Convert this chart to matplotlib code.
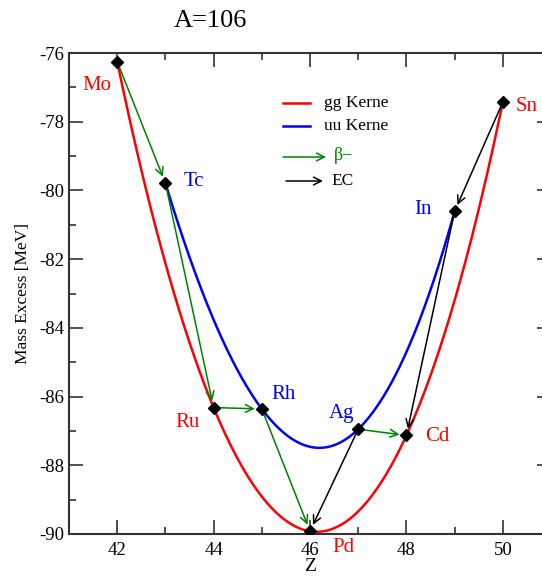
import numpy as np
import matplotlib
matplotlib.use("Agg")
import matplotlib.pyplot as plt
from matplotlib.ticker import MultipleLocator

plt.rcParams['font.family'] = ['Liberation Serif', 'DejaVu Serif']
plt.rcParams['axes.unicode_minus'] = False

# Data (A=106 isobars)
gg_names = ["Mo", "Ru", "Pd", "Cd", "Sn"]
gg_Z = [42, 44, 46, 48, 50]
gg_M = [-76.25, -86.32, -89.92, -87.13, -77.43]

uu_names = ["Tc", "Rh", "Ag", "In"]
uu_Z = [43, 45, 47, 49]
uu_M = [-79.79, -86.36, -86.95, -80.61]

# decays: (from name, to name)
beta_minus = [("Mo", "Tc"), ("Tc", "Ru"), ("Ru", "Rh"), ("Rh", "Pd"), ("Ag", "Cd")]
ec = [("Sn", "In"), ("In", "Cd"), ("Ag", "Pd")]

# label positions (in Z, MeV) for element names
label_pos = {
    "Mo": (41.58, -76.95), "Tc": (43.6, -79.75), "Ru": (43.45, -86.75),
    "Rh": (45.45, -85.95), "Pd": (46.7, -90.4), "Ag": (46.65, -86.5),
    "Cd": (48.65, -87.15), "In": (48.35, -80.55), "Sn": (50.5, -77.55),
}

pts = {n: (z, m) for n, z, m in zip(gg_names, gg_Z, gg_M)}
pts.update({n: (z, m) for n, z, m in zip(uu_names, uu_Z, uu_M)})
color_of = {n: "red" for n in gg_names}
color_of.update({n: "blue" for n in uu_names})

fig = plt.figure(figsize=(5.42, 5.77), dpi=100)
ax = fig.add_axes([69 / 542, 43 / 577, 482 / 542, 481 / 577])

# fitted curves through the points
cg = np.polyfit(gg_Z, gg_M, len(gg_Z) - 1)
zg = np.linspace(min(gg_Z), max(gg_Z), 300)
ax.plot(zg, np.polyval(cg, zg), color="red", lw=1.8, zorder=2)
cu = np.polyfit(uu_Z, uu_M, len(uu_Z) - 1)
zu = np.linspace(min(uu_Z), max(uu_Z), 300)
ax.plot(zu, np.polyval(cu, zu), color="blue", lw=1.8, zorder=2)

def arrow(a, b, col):
    ax.annotate("", xy=pts[b], xytext=pts[a],
                arrowprops=dict(arrowstyle="->", color=col, lw=1.1,
                                shrinkA=0, shrinkB=5, mutation_scale=14),
                zorder=3)

for a, b in beta_minus:
    arrow(a, b, "green")
for a, b in ec:
    arrow(a, b, "black")

allZ = gg_Z + uu_Z
allM = gg_M + uu_M
ax.plot(allZ, allM, linestyle="none", marker="D", color="black", ms=6.5, zorder=4)

for n, (x, y) in label_pos.items():
    ax.text(x, y, n, color=color_of[n], fontsize=15, ha="center", va="center",
            clip_on=False)

ax.set_xlim(41, 51)
ax.set_ylim(-90, -76)
ax.xaxis.set_major_locator(MultipleLocator(2))
ax.xaxis.set_minor_locator(MultipleLocator(1))
ax.yaxis.set_major_locator(MultipleLocator(2))
ax.yaxis.set_minor_locator(MultipleLocator(1))
ax.tick_params(which="both", direction="in", top=True, right=True,
               labelsize=13.5, width=1.2, color="#333333")
ax.tick_params(which="major", length=10)
ax.tick_params(axis="x", which="major", pad=6)
ax.tick_params(which="minor", length=5)
for s in ax.spines.values():
    s.set_linewidth(1.5)
    s.set_color("#333333")

ax.set_xlabel("Z", fontsize=14, labelpad=-1)
ax.set_ylabel("Mass Excess [MeV]", fontsize=12.5, labelpad=6)
fig.text(210 / 542, 1 - 21 / 577, "A=106", fontsize=19, ha="center", va="center")

# manual legend (axes fraction coordinates)
def fx(px):
    return (px - 69) / 482
def fy(py):
    return (534 - py) / 481

ax.plot([fx(283), fx(310)], [fy(103), fy(103)], color="red", lw=1.8, transform=ax.transAxes)
ax.text(fx(324), fy(103), "gg Kerne", fontsize=12.5, va="center", transform=ax.transAxes)
ax.plot([fx(283), fx(310)], [fy(126), fy(126)], color="blue", lw=1.8, transform=ax.transAxes)
ax.text(fx(324), fy(126), "uu Kerne", fontsize=12.5, va="center", transform=ax.transAxes)
ax.annotate("", xy=(fx(326), fy(157)), xytext=(fx(283), fy(157)), xycoords=ax.transAxes,
            arrowprops=dict(arrowstyle="->", color="green", lw=1.1, shrinkA=0, shrinkB=0,
                            mutation_scale=14))
ax.text(fx(334), fy(155), "β−", fontsize=13, color="green", va="center", transform=ax.transAxes)
ax.annotate("", xy=(fx(323), fy(181)), xytext=(fx(286), fy(181)), xycoords=ax.transAxes,
            arrowprops=dict(arrowstyle="->", color="black", lw=1.1, shrinkA=0, shrinkB=0,
                            mutation_scale=14))
ax.text(fx(331), fy(181), "EC", fontsize=12.5, va="center", transform=ax.transAxes)

fig.savefig("out.png", dpi=100)
